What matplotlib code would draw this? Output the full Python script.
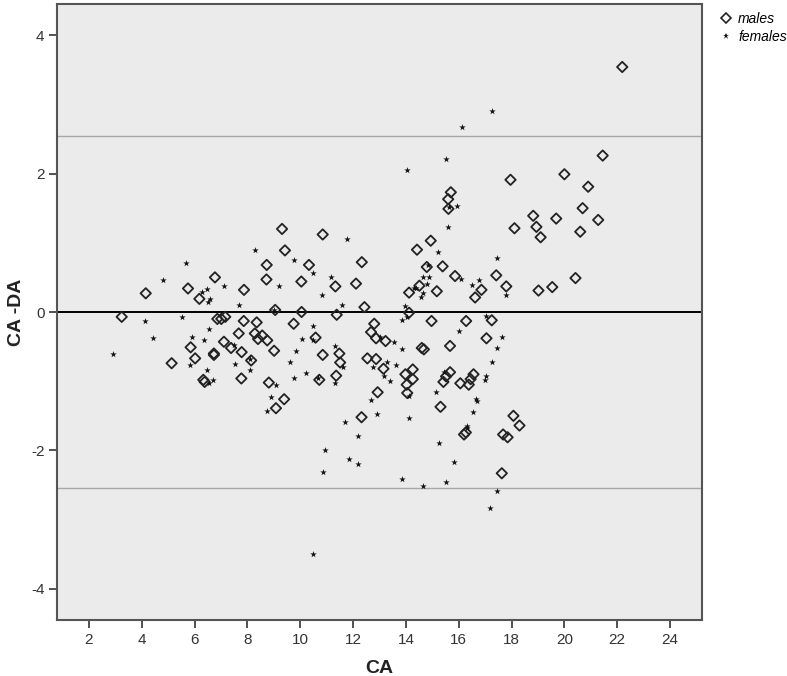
import matplotlib
matplotlib.use("Agg")
import matplotlib.pyplot as plt
from matplotlib.lines import Line2D

plt.rcParams['font.family'] = ['Liberation Sans', 'DejaVu Sans']
plt.rcParams['axes.unicode_minus'] = False

# ---- data ----
males_x = [3.24, 4.15, 5.75, 6.77, 7.87, 6.18,
           6.86, 7.01, 7.16, 7.86, 8.35,
           7.67, 8.28, 8.40, 5.85, 7.11, 7.38,
           6.02, 6.73, 6.73, 7.78, 8.14, 5.13,
           6.33, 6.38, 7.77,
           9.31, 10.85, 9.42, 8.73, 10.33, 12.33,
           8.72, 10.04, 11.33, 12.11, 12.43,
           9.05, 10.05, 11.38,
           8.56, 8.75, 9.75, 10.58, 9.01, 11.48, 10.85, 11.51,
           10.72, 11.36, 8.81, 9.39, 9.08, 12.32,
           12.80, 12.68, 12.87, 13.23, 12.54, 12.87, 13.15,
           14.26, 13.98, 14.26, 14.03, 14.05, 12.93,
           15.31, 15.42, 15.52, 15.67, 15.67, 16.06, 16.38, 16.45, 16.56,
           16.20, 16.27, 17.05, 18.07, 18.30, 17.68, 17.85, 17.63,
           14.68, 14.60,
           22.19, 21.45, 17.96, 20.00, 20.90, 15.70, 15.60, 15.61,
           20.69, 18.82, 19.69, 21.28, 18.94, 18.11, 20.60, 19.10,
           14.94, 14.42, 15.39, 14.79, 14.51, 14.12, 15.17, 17.42, 15.86,
           20.42, 16.86, 16.62, 17.80, 19.02, 19.54,
           14.12, 14.97, 16.28, 17.25]
males_y = [-0.07, 0.27, 0.34, 0.50, 0.32, 0.19,
           -0.10, -0.10, -0.07, -0.13, -0.15,
           -0.31, -0.31, -0.39, -0.51, -0.43, -0.52,
           -0.67, -0.62, -0.60, -0.58, -0.70, -0.74,
           -0.98, -1.01, -0.96,
           1.20, 1.12, 0.89, 0.68, 0.68, 0.72,
           0.47, 0.44, 0.37, 0.41, 0.07,
           0.03, 0.00, -0.04,
           -0.34, -0.41, -0.17, -0.37, -0.56, -0.60, -0.62, -0.73,
           -0.98, -0.92, -1.02, -1.26, -1.39, -1.52,
           -0.17, -0.29, -0.38, -0.42, -0.67, -0.68, -0.82,
           -0.83, -0.90, -0.97, -1.05, -1.17, -1.16,
           -1.37, -1.01, -0.93, -0.87, -0.49, -1.03, -1.05, -0.97, -0.90,
           -1.77, -1.74, -0.38, -1.50, -1.64, -1.77, -1.81, -2.33,
           -0.54, -0.52,
           3.54, 2.26, 1.91, 1.99, 1.81, 1.73, 1.63, 1.49,
           1.50, 1.39, 1.35, 1.33, 1.23, 1.21, 1.16, 1.08,
           1.03, 0.90, 0.66, 0.65, 0.38, 0.28, 0.30, 0.53, 0.52,
           0.49, 0.32, 0.21, 0.37, 0.31, 0.36,
           -0.01, -0.13, -0.13, -0.12]

females_x = [8.29, 5.67, 4.82, 7.11, 6.29, 6.47, 6.58, 6.50, 7.68,
             4.12, 5.51, 6.53, 5.91, 4.41, 6.36, 7.48, 2.92,
             8.09, 5.81, 7.53, 8.09, 6.46, 6.53, 6.69,
             11.76, 9.75, 10.50, 11.18, 9.18, 10.84, 11.57, 9.00,
             10.50, 10.08, 10.50, 9.83, 11.33, 9.61, 11.63,
             9.75, 10.21, 10.69, 11.32, 9.08, 8.88, 8.73, 12.92,
             13.00, 13.55, 13.86, 12.75, 13.27, 13.61, 13.17, 13.40, 14.10, 12.69,
             11.70, 12.20, 10.94, 11.86, 12.20, 10.85, 10.50,
             14.13, 13.87, 14.63, 15.52, 15.83, 15.26, 15.13, 15.45,
             16.00, 16.65, 16.69, 16.53, 16.33, 16.30,
             17.62, 17.43, 17.27, 17.02, 16.99, 17.43, 17.19,
             17.27, 16.11, 14.05, 15.51, 15.64, 15.93, 15.58, 15.23, 17.43,
             14.83, 14.64, 14.89, 14.80, 14.39, 14.30, 14.64, 14.58,
             16.09, 16.52, 16.75, 17.78,
             13.97, 14.03, 13.84, 17.04]
females_y = [0.90, 0.71, 0.46, 0.37, 0.29, 0.33, 0.19, 0.14, 0.10,
             -0.13, -0.07, -0.24, -0.36, -0.37, -0.40, -0.47, -0.60,
             -0.68, -0.77, -0.75, -0.84, -0.84, -1.03, -0.98,
             1.06, 0.75, 0.56, 0.51, 0.38, 0.25, 0.10, 0.03,
             -0.20, -0.39, -0.41, -0.56, -0.49, -0.72, -0.79,
             -0.95, -0.88, -0.96, -1.02, -1.05, -1.23, -1.43, -1.47,
             -0.36, -0.43, -0.54, -0.80, -0.72, -0.76, -0.93, -1.00, -1.22, -1.27,
             -1.59, -1.79, -1.99, -2.13, -2.20, -2.31, -3.50,
             -1.53, -2.42, -2.51, -2.46, -2.16, -1.89, -1.16, -0.86,
             -0.28, -1.25, -1.28, -1.45, -1.64, -1.68,
             -0.36, -0.52, -0.72, -0.92, -0.98, -2.59, -2.83,
             2.90, 2.68, 2.05, 2.21, 1.52, 1.53, 1.23, 0.87, 0.78,
             0.68, 0.51, 0.50, 0.41, 0.35, 0.34, 0.27, 0.21,
             0.47, 0.39, 0.46, 0.25,
             0.08, -0.07, -0.12, -0.06]

mean_line = 0.0
limits = [2.54, -2.54]
x_ticks = list(range(2, 25, 2))
y_ticks = [-4, -2, 0, 2, 4]

# ---- figure ----
fig = plt.figure(figsize=(7.87, 6.76), dpi=100)
ax = fig.add_axes([57/787, 1-620/676, (702-57)/787, (620-4)/676])
ax.set_facecolor('#ebebeb')

ax.axhline(mean_line, color='black', lw=1.4, zorder=1)
for l in limits:
    ax.axhline(l, color='#a8a8a8', lw=1.0, zorder=1)

ax.scatter(males_x, males_y, marker='D', s=28, facecolors='none',
           edgecolors='#222222', linewidths=1.3, zorder=3)
ax.scatter(females_x, females_y, marker='*', s=24, color='#111111',
           linewidths=0, zorder=3)

ax.set_xlim(0.79, 25.21)
ax.set_ylim(-4.45, 4.45)
ax.set_xticks(x_ticks)
ax.set_yticks(y_ticks)
ax.tick_params(axis='both', direction='out', length=6, width=1.3,
               color='#444444', labelsize=11, labelcolor='#333333', pad=3)
for sp in ax.spines.values():
    sp.set_color('#555555')
    sp.set_linewidth(1.5)

ax.set_xlabel('CA', fontsize=14, fontweight='bold', color='#222222', labelpad=10)
ax.set_ylabel('CA -DA', fontsize=14, fontweight='bold', color='#222222', labelpad=4)

handles = [Line2D([], [], marker='D', ls='none', markersize=5, markerfacecolor='none',
                  markeredgecolor='#222222', markeredgewidth=1.2),
           Line2D([], [], marker='*', ls='none', markersize=5, color='#111111',
                  markeredgewidth=0)]
fig.legend(handles, ['males', 'females'], loc='upper left',
           bbox_to_anchor=(716/787, 1-6/676), frameon=False,
           prop={'style': 'italic', 'size': 10}, handlelength=0.6,
           handletextpad=0.6, labelspacing=0.3, borderaxespad=0)

fig.savefig('out.png', dpi=100)
